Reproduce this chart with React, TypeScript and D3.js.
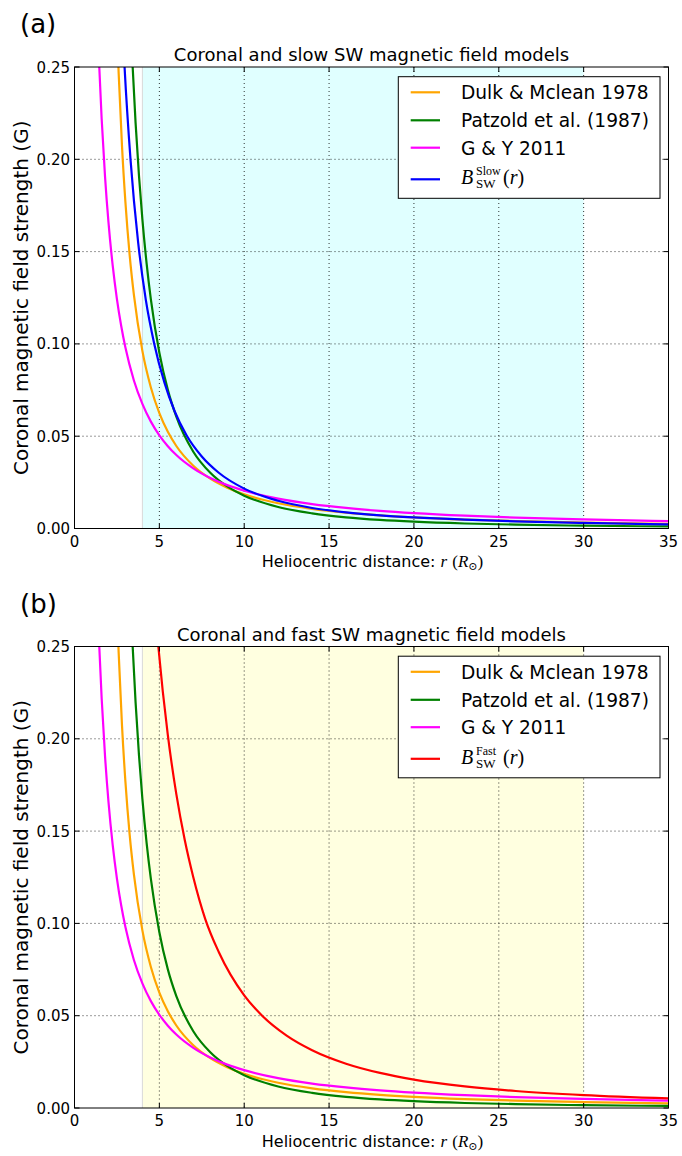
import React from 'react';
import * as d3 from 'd3';

const W = 682;
const H = 1156;

const xTicks = [0, 5, 10, 15, 20, 25, 30, 35];
const yTicks = [0, 0.05, 0.1, 0.15, 0.2, 0.25];
const yTickLabels = ['0.00', '0.05', '0.10', '0.15', '0.20', '0.25'];
const xGrid = [5, 10, 15, 20, 25, 30];
const yGrid = [0.05, 0.1, 0.15, 0.2];
const shadeRange = [4, 30];

// Dulk & McLean 1978
const dulkR = [2.4, 2.6, 2.8, 3.0, 3.25, 3.5, 4.0, 4.5, 5, 5.5, 6, 7, 8, 9, 10, 12, 14, 16, 18, 20, 23, 26, 30, 35];
const dulkB = [0.3018, 0.2471, 0.207, 0.1768, 0.1481, 0.1265, 0.0962, 0.0764, 0.0625, 0.0524, 0.0447, 0.034, 0.027, 0.0221, 0.0185, 0.0137, 0.01067, 0.00861, 0.00713, 0.00604, 0.00485, 0.004, 0.0032, 0.00252];

// Patzold et al. 1987
const patzR = [3.2, 3.4, 3.6, 3.8, 4.0, 4.25, 4.5, 5, 5.5, 6, 7, 8, 9, 10, 12, 14, 16, 18, 20, 23, 26, 30, 35];
const patzB = [0.2983, 0.2548, 0.2196, 0.191, 0.1675, 0.1435, 0.1241, 0.0952, 0.0751, 0.0606, 0.0416, 0.0302, 0.0228, 0.0178, 0.01166, 0.00821, 0.00607, 0.00467, 0.0037, 0.00272, 0.00209, 0.00153, 0.0011];

// G & Y 2011
const gyR = [1.3, 1.46, 1.6, 1.8, 2.0, 2.25, 2.5, 2.75, 3.0, 3.5, 4.0, 4.5, 5, 5.5, 6, 7, 8, 9, 10, 12, 14, 16, 18, 20, 23, 26, 30, 35];
const gyB = [0.2908, 0.25, 0.222, 0.1905, 0.1661, 0.1425, 0.1243, 0.1098, 0.098, 0.0802, 0.0675, 0.0579, 0.0505, 0.0446, 0.0398, 0.0326, 0.0274, 0.0235, 0.0205, 0.01617, 0.01323, 0.01113, 0.00954, 0.00832, 0.00694, 0.00592, 0.00491, 0.00402];

// Slow solar wind model
const slowR = [2.8, 2.95, 3.3, 3.75, 4.2, 4.7, 5.3, 5.9, 6.6, 7.5, 8.5, 10, 12, 14, 16, 18, 20, 23, 26, 30, 35];
const slowB = [0.278, 0.25, 0.2, 0.155, 0.124, 0.1, 0.079, 0.0635, 0.0505, 0.039, 0.0302, 0.0216, 0.015, 0.0111, 0.0087, 0.0071, 0.006, 0.0048, 0.0039, 0.003, 0.0022];

// Fast solar wind model
const fastR = [4.7, 4.94, 5.5, 6, 6.5, 7, 7.7, 8.5, 10, 11, 12.5, 14, 16, 18, 20, 23, 26, 30, 35];
const fastB = [0.276, 0.25, 0.202, 0.17, 0.145, 0.125, 0.1025, 0.0845, 0.061, 0.0505, 0.0392, 0.0313, 0.024, 0.019, 0.0154, 0.0117, 0.0092, 0.007, 0.0052];

const seriesNames = ['Dulk & Mclean 1978', 'Patzold et al. (1987)', 'G & Y 2011'];

type Series = { r: number[]; b: number[]; color: string };

const common: Series[] = [
  { r: dulkR, b: dulkB, color: '#ffa500' },
  { r: patzR, b: patzB, color: '#008000' },
  { r: gyR, b: gyB, color: '#ff00ff' },
];

const panels = [
  {
    id: 'a',
    letter: '(a)',
    title: 'Coronal and slow SW magnetic field models',
    top: 67,
    bottom: 528.5,
    shade: '#e0ffff',
    extra: { r: slowR, b: slowB, color: '#0000ff' },
    sup: 'Slow',
  },
  {
    id: 'b',
    letter: '(b)',
    title: 'Coronal and fast SW magnetic field models',
    top: 646.5,
    bottom: 1108,
    shade: '#ffffe0',
    extra: { r: fastR, b: fastB, color: '#ff0000' },
    sup: 'Fast',
  },
];

const LEFT = 74.5;
const RIGHT = 668.5;
const SANS = 'DejaVu Sans, sans-serif';
const SERIF = 'Liberation Serif, DejaVu Serif, serif';

function Panel({ p }: { p: (typeof panels)[number] }) {
  const x = d3.scaleLinear().domain([0, 35]).range([LEFT, RIGHT]);
  const y = d3.scaleLinear().domain([0, 0.25]).range([p.bottom, p.top]);
  const line = d3
    .line<[number, number]>()
    .x((d) => x(d[0]))
    .y((d) => y(d[1]))
    .curve(d3.curveMonotoneX);
  const all: Series[] = [...common, p.extra];
  const clipId = 'clip-' + p.id;
  const tl = 5;
  const legTop = p.top + 9.7;
  const legRows = [25.3, 53.3, 80.7, 112.3].map((o) => p.top + o);
  const midX = (LEFT + RIGHT) / 2;
  return (
    <g>
      <defs>
        <clipPath id={clipId}>
          <rect x={LEFT} y={p.top} width={RIGHT - LEFT} height={p.bottom - p.top} />
        </clipPath>
      </defs>
      <text x={20} y={p.top - 34} fontFamily={SANS} fontSize={26}>
        {p.letter}
      </text>
      <text x={midX} y={p.top - 6} fontFamily={SANS} fontSize={18} textAnchor="middle">
        {p.title}
      </text>
      <rect x={LEFT} y={p.top} width={RIGHT - LEFT} height={p.bottom - p.top} fill="#fff" />
      <rect
        x={x(shadeRange[0])}
        y={p.top}
        width={x(shadeRange[1]) - x(shadeRange[0])}
        height={p.bottom - p.top}
        fill={p.shade}
      />
      <line x1={x(shadeRange[0])} x2={x(shadeRange[0])} y1={p.top} y2={p.bottom} stroke="#d9d9d9" strokeWidth={1} />
      {xGrid.map((v) => (
        <line key={'gx' + v} x1={x(v)} x2={x(v)} y1={p.top} y2={p.bottom} stroke="#000" strokeWidth={0.8} strokeDasharray="1,3" />
      ))}
      {yGrid.map((v) => (
        <line key={'gy' + v} x1={LEFT} x2={RIGHT} y1={y(v)} y2={y(v)} stroke="#000" strokeWidth={0.8} strokeDasharray="1,3" />
      ))}
      <g clipPath={`url(#${clipId})`}>
        {all.map((s, i) => (
          <path
            key={i}
            d={line(s.r.map((r, j) => [r, s.b[j]] as [number, number])) || ''}
            fill="none"
            stroke={s.color}
            strokeWidth={2.2}
          />
        ))}
      </g>
      {xTicks.map((v) => (
        <g key={'tx' + v}>
          <line x1={x(v)} x2={x(v)} y1={p.bottom} y2={p.bottom - tl} stroke="#000" />
          <line x1={x(v)} x2={x(v)} y1={p.top} y2={p.top + tl} stroke="#000" />
          <text x={x(v)} y={p.bottom + 18} fontFamily={SANS} fontSize={15} textAnchor="middle">
            {v}
          </text>
        </g>
      ))}
      {yTicks.map((v, i) => (
        <g key={'ty' + v}>
          <line x1={LEFT} x2={LEFT + tl} y1={y(v)} y2={y(v)} stroke="#000" />
          <line x1={RIGHT} x2={RIGHT - tl} y1={y(v)} y2={y(v)} stroke="#000" />
          <text x={70} y={y(v) + 5.5} fontFamily={SANS} fontSize={15} textAnchor="end">
            {yTickLabels[i]}
          </text>
        </g>
      ))}
      <rect x={LEFT} y={p.top} width={RIGHT - LEFT} height={p.bottom - p.top} fill="none" stroke="#000" strokeWidth={1} />
      {/* legend */}
      <rect x={398.3} y={legTop} width={660 - 398.3} height={121.6} fill="#fff" stroke="#000" strokeWidth={1} />
      {all.map((s, i) => (
        <line key={'ll' + i} x1={410.7} x2={440} y1={legRows[i]} y2={legRows[i]} stroke={s.color} strokeWidth={2.2} />
      ))}
      {seriesNames.map((n, i) => (
        <text key={'lt' + i} x={461} y={legRows[i] + 7} fontFamily={SANS} fontSize={18.6}>
          {n}
        </text>
      ))}
      <text x={461} y={legRows[3] + 5} fontFamily={SERIF} fontSize={20} fontStyle="italic">
        B
      </text>
      <text x={476} y={legRows[3] - 4} fontFamily={SERIF} fontSize={12}>
        {p.sup}
      </text>
      <text x={476} y={legRows[3] + 9} fontFamily={SERIF} fontSize={13}>
        SW
      </text>
      <text x={503} y={legRows[3] + 5} fontFamily={SERIF} fontSize={20}>
        (<tspan fontStyle="italic">r</tspan>)
      </text>
      {/* axis labels */}
      <text x={midX + 1} y={p.bottom + 38.5} fontFamily={SANS} fontSize={16} textAnchor="middle">
        Heliocentric distance:{' '}
        <tspan fontFamily={SERIF} fontStyle="italic" fontSize={17}>r</tspan>{' '}
        <tspan fontFamily={SERIF} fontSize={17}>(</tspan>
        <tspan fontFamily={SERIF} fontStyle="italic" fontSize={17}>R</tspan>
        <tspan fontFamily={SERIF} fontSize={11} dy={3}>⊙</tspan>
        <tspan fontFamily={SERIF} fontSize={17} dy={-3}>)</tspan>
      </text>
      <text
        transform={`translate(27.5, ${(p.top + p.bottom) / 2}) rotate(-90)`}
        fontFamily={SANS}
        fontSize={20}
        textAnchor="middle"
      >
        Coronal magnetic field strength (G)
      </text>
    </g>
  );
}

export default function App() {
  return (
    <svg
      width={W}
      height={H}
      viewBox={`0 0 ${W} ${H}`}
      style={{ position: 'absolute', left: 0, top: 0, background: '#fff' }}
    >
      <rect x={0} y={0} width={W} height={H} fill="#fff" />
      {panels.map((p) => (
        <Panel key={p.id} p={p} />
      ))}
    </svg>
  );
}
